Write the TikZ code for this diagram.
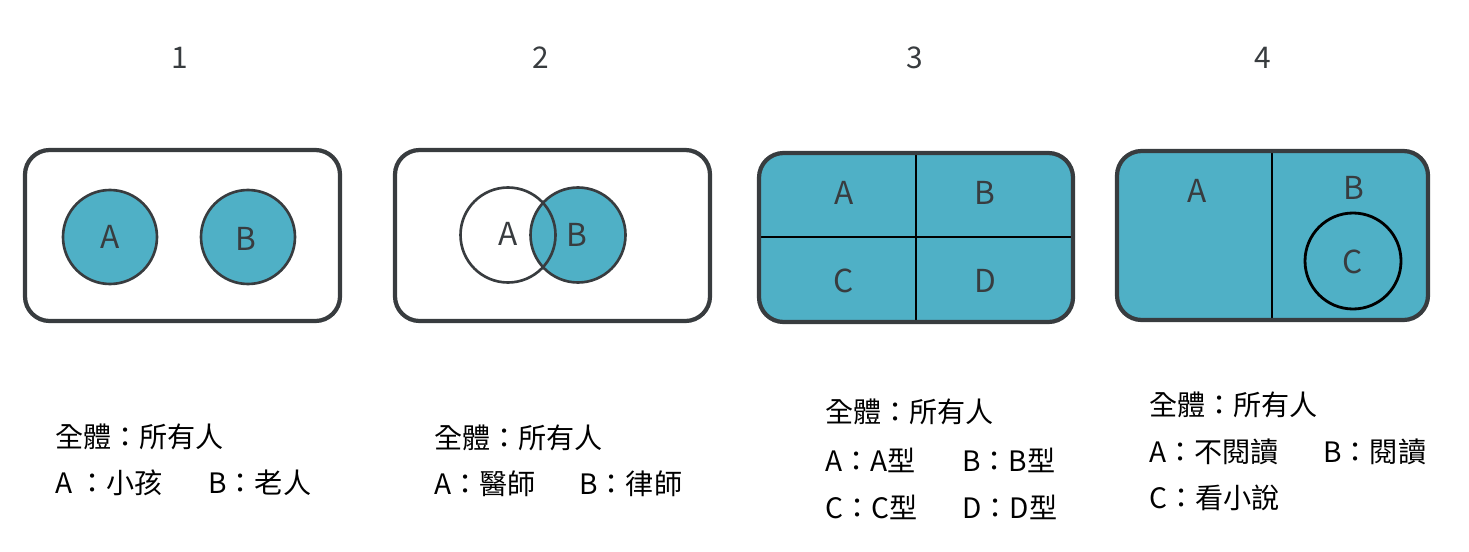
\documentclass[tikz,border=0pt]{standalone}
\usepackage{fontspec}
\setmainfont{Noto Sans CJK TC}
\usepackage{tikz}
\usetikzlibrary{positioning,calc}
\usepackage{xcolor}
\definecolor{setblue}{RGB}{79,176,198}
\definecolor{edgegray}{RGB}{56,60,63}

\tikzset{
    univ/.style={draw=edgegray, line width=2.4pt, rounded corners=14pt},
    setc/.style={draw=edgegray, line width=1.5pt},
    split/.style={draw=black, line width=1.6pt},
    lbl/.style={inner sep=0pt, text=edgegray, font=\fontsize{18}{21}\selectfont},
    txt/.style={inner sep=0pt, anchor=west, font=\fontsize{16}{19}\selectfont},
    num/.style={inner sep=0pt, text=edgegray, font=\fontsize{17}{20}\selectfont}
}

\begin{document}
\begin{tikzpicture}[x=0.02cm, y=-0.02cm]
    \useasboundingbox (0,0) rectangle (1469,551);

    % Numeros
    \foreach \n/\x in {1/180, 2/541, 3/915, 4/1263} {
        \node[num] (num\n) at (\x,58) {\n};
    }

    % Cadre 1 : deux ensembles disjoints
    \draw[univ] (25,150) rectangle (340,321);
    \draw[setc, fill=setblue] (110,237) circle (47);
    \draw[setc, fill=setblue] (248,237) circle (47);
    \node[lbl] (a1) at (110,237) {A};
    \node[lbl] (b1) at (246,239) {B};

    % Cadre 2 : intersection
    \draw[univ] (395,150) rectangle (710,321);
    \draw[setc, fill=setblue] (578,235) circle (47.5);
    \draw[setc] (508,235) circle (47.5);
    \node[lbl] (a2) at (508,234) {A};
    \node[lbl] (b2) at (577,235) {B};

    % Cadre 3 : partition en quatre
    \fill[setblue, rounded corners=14pt] (759,153) rectangle (1073,322);
    \draw[split] (916,153) -- (916,322);
    \draw[split] (759,237) -- (1073,237);
    \draw[univ] (759,153) rectangle (1073,322);
    \node[lbl] (a3) at (844,193) {A};
    \node[lbl] (b3) at (985,193) {B};
    \node[lbl] (c3) at (844,281) {C};
    \node[lbl] (d3) at (985,281) {D};

    % Cadre 4 : partition et sous-ensemble
    \fill[setblue, rounded corners=14pt] (1117,151) rectangle (1428,320);
    \draw[split] (1272,151) -- (1272,320);
    \draw[split] (1353,261) circle (48);
    \draw[univ] (1117,151) rectangle (1428,320);
    \node[lbl] (a4) at (1197,191) {A};
    \node[lbl] (b4) at (1354,188) {B};
    \node[lbl] (c4) at (1353,262) {C};

    % Legendes
    \node[txt] (u1) at (55,437) {全體：所有人};
    \node[txt] (l1a) at (55,483) {A ：小孩};
    \node[txt] (l1b) at (208,483) {B：老人};

    \node[txt] (u2) at (434,438) {全體：所有人};
    \node[txt] (l2a) at (434,484) {A：醫師};
    \node[txt] (l2b) at (579,484) {B：律師};

    \node[txt] (u3) at (825,412) {全體：所有人};
    \node[txt] (l3a) at (825,460) {A：A型};
    \node[txt] (l3b) at (962,460) {B：B型};
    \node[txt] (l3c) at (825,507) {C：C型};
    \node[txt] (l3d) at (962,507) {D：D型};

    \node[txt] (u4) at (1149,405) {全體：所有人};
    \node[txt] (l4a) at (1149,452) {A：不閱讀};
    \node[txt] (l4b) at (1323,452) {B：閱讀};
    \node[txt] (l4c) at (1149,498) {C：看小說};
\end{tikzpicture}
\end{document}
